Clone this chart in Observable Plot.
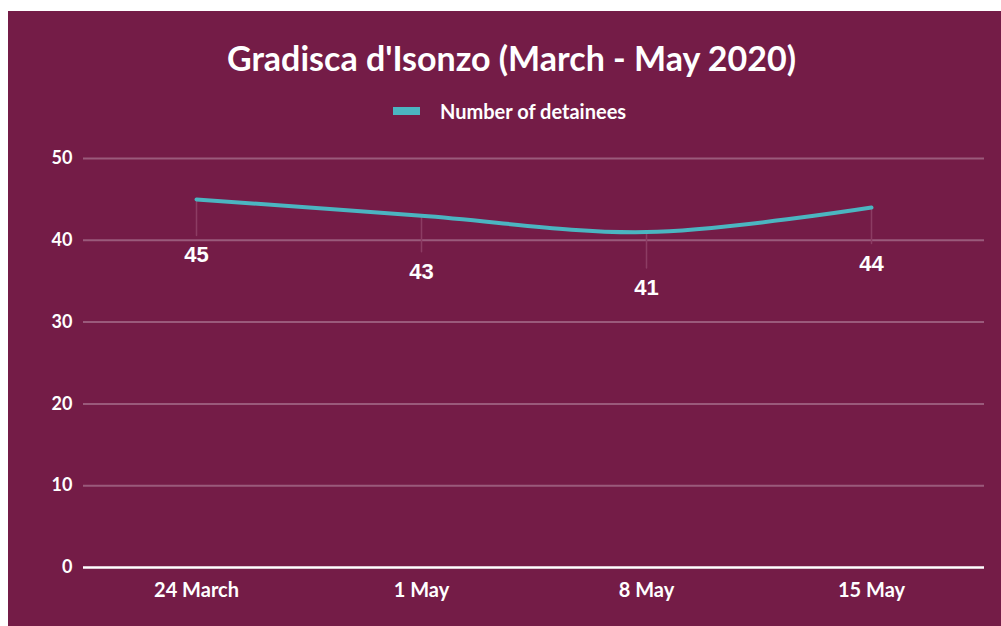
<!DOCTYPE html>
<html>
<head>
<meta charset="utf-8">
<script src="https://cdn.jsdelivr.net/npm/d3@7"></script>
<script src="https://cdn.jsdelivr.net/npm/@observablehq/plot@0.6"></script>
<style>
  html, body { margin: 0; padding: 0; background: #ffffff; }
  #wrap { position: absolute; left: 8px; top: 11px; width: 993px; height: 615px; background: #741C47; font-family: Lato, "Open Sans", sans-serif; }
  #title { position: absolute; left: 0; width: 1007px; top: 26px; text-align: center; color: #fff; font-weight: 700; font-size: 34px; line-height: 42px; }
  #legend { position: absolute; left: 385px; top: 89px; color: #fff; font-weight: 700; font-size: 20px; line-height: 22px; display: flex; align-items: center; }
  #legend .sw { width: 27px; height: 8px; background: #4BB5C1; margin-right: 20px; }
  #chart { position: absolute; left: 0; top: 0; }
</style>
</head>
<body>
<div id="wrap">
  <div id="chart"></div>
  <div id="title">Gradisca d'Isonzo (March - May 2020)</div>
  <div id="legend"><span class="sw"></span><span>Number of detainees</span></div>
</div>
<script>
const categories = ["24 March", "1 May", "8 May", "15 May"];
const detainees = [45, 43, 41, 44];
const yTicks = [0, 10, 20, 30, 40, 50];
const seriesName = "Number of detainees";

const data = categories.map((c, i) => ({date: c, value: detainees[i]}));

const chart = Plot.plot({
  width: 993,
  height: 615,
  marginLeft: 75,
  marginRight: 17,
  marginTop: 147,
  marginBottom: 59,
  style: {background: "transparent", color: "#ffffff", fontFamily: "Lato, 'Open Sans', sans-serif"},
  x: {type: "point", domain: categories, padding: 0.5, label: null},
  y: {domain: [0, 50], label: null},
  marks: [
    Plot.ruleY(yTicks.filter(d => d > 0), {stroke: "#9A5A7B", strokeWidth: 2}),
    Plot.ruleY([0], {stroke: "#ffffff", strokeWidth: 2.5}),
    Plot.axisY({ticks: yTicks, tickSize: 0, tickPadding: 11, fontSize: 18, fontWeight: 700, fill: "#ffffff", label: null}),
    Plot.axisX({tickSize: 0, tickPadding: 15, fontSize: 20, fontWeight: 700, fill: "#ffffff", label: null}),
    Plot.vector(data, {
      x: "date", y: "value", length: 36, rotate: 180, anchor: "start",
      stroke: "#8C3C63", strokeWidth: 1.5,
      shape: {draw(context, l) { context.moveTo(0, 0); context.lineTo(0, -l); }}
    }),
    Plot.line(data, {x: "date", y: "value", curve: "catmull-rom", stroke: "#4BB5C1", strokeWidth: 4}),
    Plot.text(data, {x: "date", y: "value", text: d => String(d.value), dy: 56, fill: "#ffffff",
      fontSize: 22, fontWeight: 700, fontFamily: "'Liberation Sans', Arial, sans-serif"})
  ]
});
document.getElementById("chart").appendChild(chart);
</script>
</body>
</html>
